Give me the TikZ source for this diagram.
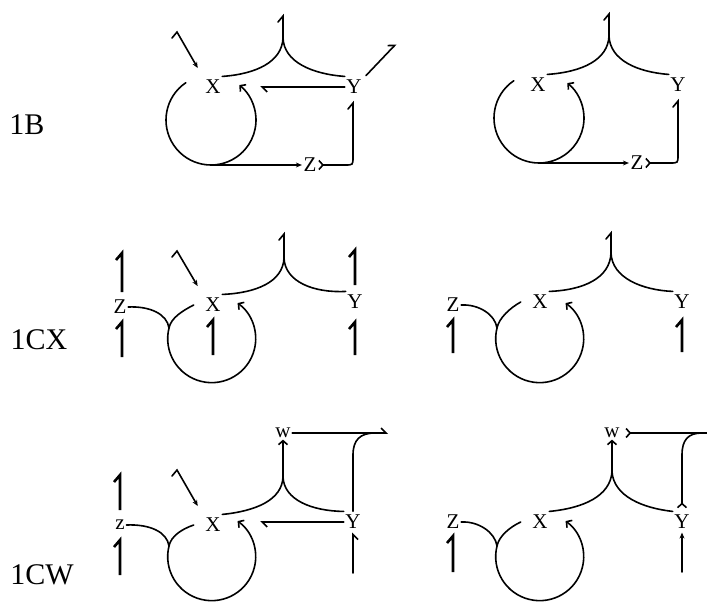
\documentclass[tikz,border=0pt]{standalone}
\usepackage{fontspec}
\setmainfont{Liberation Serif}
\usetikzlibrary{arrows.meta}
\tikzset{
  lbl/.style={font=\fontsize{21}{21}\selectfont,inner sep=1.5pt},
  tag/.style={font=\fontsize{30}{30}\selectfont,inner sep=0pt},
  ln/.style={line width=1.6pt,line cap=round},
  one/.style={line width=2.6pt},
  tip/.style={-{Stealth[length=6pt,width=5pt]}},
  barb/.style={-{Straight Barb[length=4pt,width=9pt]}},
  harp/.style={-{Straight Barb[left,length=5pt,width=10pt]}},
  harpr/.style={-{Straight Barb[right,length=5pt,width=10pt]}},
  tail/.style={{Straight Barb[reversed,length=4pt,width=9pt]}-},
}
\begin{document}
\begin{tikzpicture}[x=1pt,y=-1pt]
  \useasboundingbox (0,0) rectangle (707,603);
  % row tags
  \node[tag] (t1) at (27,125) {1B};
  \node[tag] (t2) at (39,340) {1CX};
  \node[tag] (t3) at (42,575) {1CW};

  % small stubs with a hook on top
  \foreach \sx/\sa/\sb in {283/16/38, 609/14/36, 284/234/258, 611/233/253}
    \draw[ln] (\sx-5,\sa+6) -- (\sx,\sa) -- (\sx,\sb);
  % big stubs
  \foreach \sx/\sa/\sb in {122/253/292, 122/322/357, 213/320/355,
      355/250/285, 355/322/355, 453/320/353, 682/320/352,
      120/475/510, 120/540/575, 453/536/572}
    \draw[one] (\sx-6,\sa+7) -- (\sx,\sa) -- (\sx,\sb);

  %%% 1B left
  \node[lbl] (xa) at (213,87) {X};
  \node[lbl] (ya) at (354,87) {Y};
  \node[lbl] (za) at (310,165) {Z};
  \coordinate (pa) at (283,38);
  \coordinate (ca) at (211,120);
  \draw[ln] ([yshift=2pt]xa.north east) .. controls (256,74) and (282,62) .. (pa)
    .. controls (284,62) and (312,74) .. ([yshift=2pt]ya.north west);
  \draw[ln,barb] (ca) ++(236:45) arc[start angle=236,end angle=-51,radius=45];
  \draw[ln,tip] (ca) ++(90:45) -- (za.west);
  \draw[ln,tail] (za.east) -- (345,165) .. controls (353,165) .. (353,157)
    -- (353,103) -- (348,109);
  \draw[ln,harp,shorten >=38pt] (ya.west) -- (xa.east);
  \draw[ln,tip,shorten >=12pt] (172,38) -- (177,32) -- (xa.north west);
  \draw[ln,harp,shorten <=4pt] (ya.north east) -- (396,44);

  %%% 1B right
  \node[lbl] (xb) at (538,85) {X};
  \node[lbl] (yb) at (678,85) {Y};
  \node[lbl] (zb) at (637,163) {Z};
  \coordinate (pb) at (609,36);
  \coordinate (cb) at (539,118);
  \draw[ln] ([yshift=2pt]xb.north east) .. controls (582,72) and (608,60) .. (pb)
    .. controls (610,60) and (637,72) .. ([yshift=2pt]yb.north west);
  \draw[ln,barb] (cb) ++(236:45) arc[start angle=236,end angle=-51,radius=45];
  \draw[ln,tip] (cb) ++(90:45) -- (zb.west);
  \draw[ln,tail] (zb.east) -- (670,163) .. controls (678,163) .. (678,155)
    -- (678,101) -- (673,107);

  %%% 1CX left
  \node[lbl] (zc) at (120,307) {Z};
  \node[lbl] (xc) at (213,305) {X};
  \node[lbl] (yc) at (355,302) {Y};
  \coordinate (pc) at (284,258);
  \coordinate (kc) at (169,328);
  \draw[ln] ([yshift=2pt]xc.north east) .. controls (256,293) and (283,282) .. (pc)
    .. controls (285,282) and (314,293) .. ([yshift=2pt]yc.north west);
  \draw[ln,barb] (zc.east) .. controls (150,306) and (167,314) .. (kc)
    arc[start angle=194,end angle=-54,radius=44];
  \draw[ln] ([xshift=-10pt]xc.west) .. controls (182,311) and (171,318) .. (kc);
  \draw[ln,tip,shorten >=12pt] (172,257) -- (177,251) -- (xc.north west);

  %%% 1CX right
  \node[lbl] (zd) at (453,305) {Z};
  \node[lbl] (xd) at (540,302) {X};
  \node[lbl] (yd) at (682,302) {Y};
  \coordinate (pd) at (611,253);
  \coordinate (kd) at (497,328);
  \draw[ln] ([yshift=2pt]xd.north east) .. controls (584,290) and (610,278) .. (pd)
    .. controls (612,278) and (642,290) .. ([yshift=2pt]yd.north west);
  \draw[ln,barb] (zd.east) .. controls (478,304) and (495,314) .. (kd)
    arc[start angle=194,end angle=-54,radius=44];
  \draw[ln] ([xshift=-10pt]xd.west) .. controls (510,308) and (499,318) .. (kd);

  %%% 1CW left
  \node[lbl] (ze) at (120,525) {z};
  \node[lbl] (xe) at (213,525) {X};
  \node[lbl] (ye) at (353,522) {Y};
  \node[lbl] (we) at (283,433) {w};
  \coordinate (pe) at (283,477);
  \coordinate (ke) at (169,546);
  \draw[ln] ([yshift=2pt]xe.north east) .. controls (256,511) and (282,500) .. (pe)
    .. controls (284,500) and (312,511) .. ([yshift=2pt]ye.north west);
  \draw[ln,barb] (pe) -- (we.south);
  \draw[ln,harp] (we.east) -- (388,433);
  \draw[ln,shorten <=2pt] (ye.north) -- (353,455) .. controls (353,440) and (360,433) .. (375,433);
  \draw[ln,harpr] (ye.south |- 0,573) -- ([yshift=-2pt]ye.south);
  \draw[ln,harp,shorten >=38pt] (ye.west) -- (ye.west -| xe.east);
  \draw[ln,barb] (ze.east) .. controls (150,524) and (167,532) .. (ke)
    arc[start angle=194,end angle=-54,radius=44];
  \draw[ln] ([xshift=-10pt]xe.west) .. controls (182,529) and (171,536) .. (ke);
  \draw[ln,tip,shorten >=12pt] (172,476) -- (177,470) -- (xe.north west);

  %%% 1CW right
  \node[lbl] (zf) at (453,522) {Z};
  \node[lbl] (xf) at (540,522) {X};
  \node[lbl] (yf) at (682,522) {Y};
  \node[lbl] (wf) at (612,433) {w};
  \coordinate (pf) at (612,472);
  \coordinate (kf) at (497,546);
  \draw[ln] ([yshift=2pt]xf.north east) .. controls (584,508) and (610,496) .. (pf)
    .. controls (614,496) and (642,508) .. ([yshift=2pt]yf.north west);
  \draw[ln,barb] (pf) -- (wf.south);
  \draw[ln,tail] ([xshift=4pt]wf.east) -- (707,433);
  \draw[ln,tail] ([yshift=5pt]yf.north) -- (682,455) .. controls (682,440) and (688,433) .. (702,433);
  \draw[ln,tip] (yf.south |- 0,572) -- ([yshift=-2pt]yf.south);
  \draw[ln,barb] (zf.east) .. controls (478,521) and (495,532) .. (kf)
    arc[start angle=194,end angle=-54,radius=44];
  \draw[ln] ([xshift=-10pt]xf.west) .. controls (510,527) and (499,536) .. (kf);
\end{tikzpicture}
\end{document}
